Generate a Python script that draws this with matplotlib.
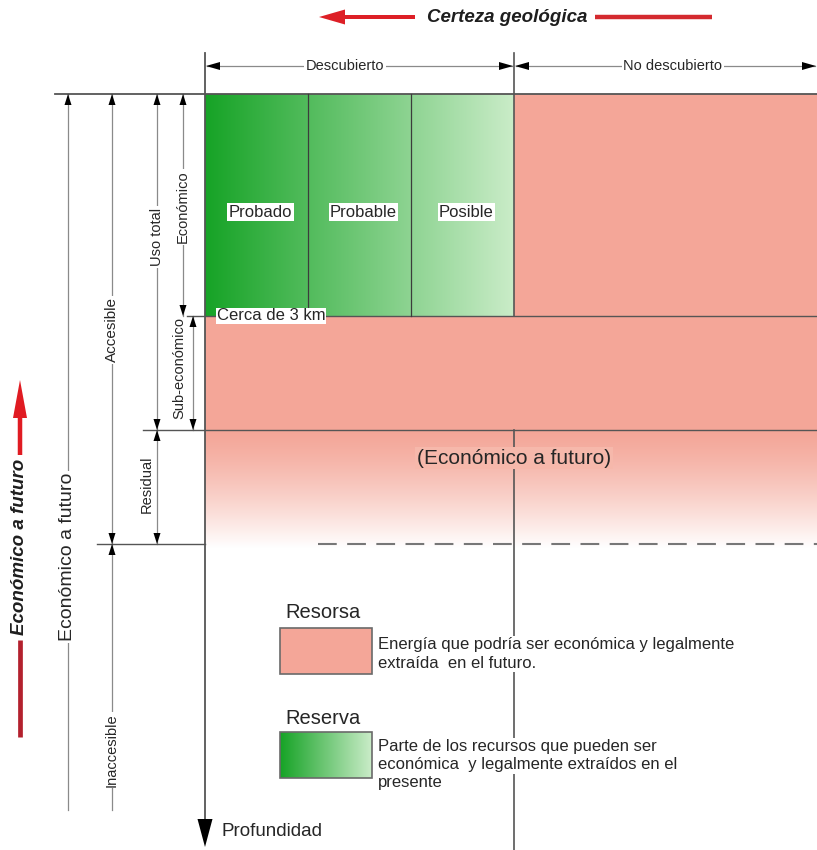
import numpy as np
import matplotlib
matplotlib.use("Agg")
import matplotlib.pyplot as plt
from matplotlib.patches import Polygon, Rectangle, FancyArrow

plt.rcParams['font.family'] = ['Liberation Sans', 'DejaVu Sans']

# --- texts of the diagram ---
title = "Certeza geológica"
side_title = "Económico a futuro"
header_labels = ["Descubierto", "No descubierto"]
reserve_labels = ["Probado", "Probable", "Posible"]
depth_note = "Cerca de 3 km"
future_label = "(Económico a futuro)"
axis_label = "Profundidad"
legend_titles = ["Resorsa", "Reserva"]
legend_texts = [["Energía que podría ser económica y legalmente",
                 "extraída  en el futuro."],
                ["Parte de los recursos que pueden ser",
                 "económica  y legalmente extraídos en el",
                 "presente"]]
dim_labels = ["Económico a futuro", "Accesible", "Inaccesible", "Uso total",
              "Residual", "Económico", "Sub-económico"]

# --- layout (pixel space) ---
W, H = 817, 850
XA, XS, XE = 205, 514, 817          # axis, discovered split, right edge
YT, YE, YS, YR = 94, 316, 430, 544  # top, economic, sub-economic, residual
SALMON = np.array([244, 166, 152]) / 255
GREEN_L = np.array([22, 163, 38]) / 255
GREEN_R = np.array([202, 236, 200]) / 255
LINE = '#555555'
DIM = '#8a8a8a'
TXT = '#262626'

fig = plt.figure(figsize=(W / 100, H / 100), dpi=100)
ax = fig.add_axes([0, 0, 1, 1])


def hgrad(x0, x1, y0, y1, c0, c1, z=1):
    t = np.linspace(0, 1, 256)[None, :, None]
    img = c0 + (c1 - c0) * t
    ax.imshow(img, extent=[x0, x1, y1, y0], origin='upper', aspect='auto',
              interpolation='bilinear', zorder=z)


def vgrad(x0, x1, y0, y1, c0, c1, z=1):
    t = np.linspace(0, 1, 256)[:, None, None] ** 1.3
    img = c0 + (c1 - c0) * t
    ax.imshow(img, extent=[x0, x1, y1, y0], origin='upper', aspect='auto',
              interpolation='bilinear', zorder=z)


def head(x, y, d, L=11, w=3.5, color='black'):
    # arrowhead with tip at (x, y); d in up/down/left/right
    if d == 'up':
        pts = [(x, y), (x - w, y + L), (x + w, y + L)]
    elif d == 'down':
        pts = [(x, y), (x - w, y - L), (x + w, y - L)]
    elif d == 'left':
        pts = [(x, y), (x + L, y - w), (x + L, y + w)]
    else:
        pts = [(x, y), (x - L, y - w), (x - L, y + w)]
    ax.add_patch(Polygon(pts, closed=True, color=color, zorder=6, lw=0))


def vdim(x, y0, y1, top=True, bottom=True):
    ax.plot([x, x], [y0, y1], color=DIM, lw=0.9, zorder=4)
    if top:
        head(x, y0, 'up')
    if bottom:
        head(x, y1, 'down')


def label(x, y, s, size=10.5, rot=0, bg='white', **kw):
    ax.text(x, y, s, fontsize=size, rotation=rot, ha='center', va='center',
            color=TXT, zorder=8,
            bbox=dict(facecolor=bg, edgecolor='none', pad=1) if bg else None,
            **kw)


# --- fills ---
hgrad(XA, XS, YT, YE, GREEN_L, GREEN_R)
ax.add_patch(Rectangle((XS, YT), XE - XS, YE - YT, color=SALMON, zorder=1, lw=0))
ax.add_patch(Rectangle((XA, YE), XE - XA, YS - YE, color=SALMON, zorder=1, lw=0))
vgrad(XA, XE, YS, YR + 4, SALMON, np.ones(3))

# --- grid lines ---
ax.plot([55, XE], [YT, YT], color=LINE, lw=1.3, zorder=5)
ax.plot([187, XE], [YE, YE], color=LINE, lw=1.0, zorder=5)
ax.plot([143, XE], [YS, YS], color=LINE, lw=1.0, zorder=5)
ax.plot([97, XA], [YR, YR], color=LINE, lw=1.0, zorder=5)
ax.plot([318, XE], [YR, YR], color='#777777', lw=1.5, ls=(0, (9, 5)), zorder=5)
cell_edges = np.linspace(XA, XS, len(reserve_labels) + 1)
for xc in cell_edges[1:-1]:
    ax.plot([xc, xc], [YT, YE], color='#3c3c3c', lw=0.9, zorder=5)
ax.plot([XA, XA], [53, 822], color=LINE, lw=1.3, zorder=5)
head(XA, 847, 'down', L=28, w=7.5)
ax.plot([XS, XS], [53, YE], color=LINE, lw=1.2, zorder=5)
ax.plot([XS, XS], [YS, H], color=LINE, lw=1.2, zorder=5)

# --- header ---
ax.add_patch(FancyArrow(415, 17, -70, 0, width=4, head_width=15,
                        head_length=26, length_includes_head=False,
                        color='#dd1f26', lw=0, zorder=6))
ax.plot([595, 712], [17, 17], color='#d42a2f', lw=3.2, zorder=6,
        solid_capstyle='butt')
ax.text(507, 17, title, fontsize=13.5, fontweight='bold', style='italic',
        ha='center', va='center', color='#1e1e1e', zorder=8)

spans = [(XA, XS), (XS, XE)]
header_x = [345, 673]
for (a, b), s, xc in zip(spans, header_labels, header_x):
    ax.plot([a + 2, b - 2], [66, 66], color=DIM, lw=0.9, zorder=4)
    head(a + 1, 66, 'left', L=14, w=4)
    head(b - 1, 66, 'right', L=14, w=4)
    label(xc, 66, s, size=10.5)

# --- cell labels ---
for i, s in enumerate(reserve_labels):
    label((cell_edges[i] + cell_edges[i + 1]) / 2 + 4, 212, s, size=12)
ax.text(217, YE, depth_note, fontsize=12, ha='left', va='center', color=TXT,
        zorder=8, bbox=dict(facecolor='white', edgecolor='none', pad=0.5))
label(XS, 458, future_label, size=15, bg=(0.965, 0.72, 0.67))

# --- left dimension lines ---
vdim(68, YT, 810, bottom=False)
label(68, 557, dim_labels[0], size=14, rot=90)
vdim(112, YT, YR)
label(112, 330, dim_labels[1], rot=90, size=11)
vdim(112, YR, 810, bottom=False)
label(112, 750, dim_labels[2], rot=90)
vdim(157, YT, YS)
label(157, 237, dim_labels[3], rot=90)
vdim(157, YS, YR)
label(147, 484, dim_labels[4], rot=90, bg=None)
vdim(183, YT, YE)
label(183, 207, dim_labels[5], rot=90)
vdim(193, YE, YS)
label(179, 368, dim_labels[6], rot=90, bg=None)

# red side arrow
ax.add_patch(FancyArrow(20, 455, 0, -75, width=4.5, head_width=14,
                        head_length=38, length_includes_head=True,
                        color='#e01b22', lw=0, zorder=6))
ax.plot([20, 20], [640, 737], color='#b3202d', lw=3.4, zorder=6,
        solid_capstyle='butt')
ax.text(20, 547, side_title, fontsize=13.5, fontweight='bold', style='italic',
        rotation=90, ha='center', va='center', color='#1e1e1e', zorder=8)

ax.text(222, 832, axis_label, fontsize=13.5, ha='left', va='center',
        color=TXT, zorder=8)

# --- legend ---
box_y = [628, 732]
title_y = [613, 718]
text_y0 = [645, 747]
for k in range(2):
    ax.text(285, title_y[k], legend_titles[k], fontsize=14.5, ha='left',
            va='center', color=TXT, zorder=8)
    if k == 0:
        ax.add_patch(Rectangle((280, box_y[k]), 92, 46, facecolor=SALMON,
                               edgecolor='#6a6a6a', lw=1.2, zorder=6))
    else:
        hgrad(280, 372, box_y[k], box_y[k] + 46, GREEN_L, GREEN_R, z=6)
        ax.add_patch(Rectangle((280, box_y[k]), 92, 46, facecolor='none',
                               edgecolor='#6a6a6a', lw=1.2, zorder=7))
    for j, line in enumerate(legend_texts[k]):
        ax.text(378, text_y0[k] + 18 * j, line, fontsize=12, ha='left',
                va='center', color=TXT, zorder=8,
                bbox=dict(facecolor='white', edgecolor='none', pad=1))

ax.set_xlim(0, W)
ax.set_ylim(H, 0)
ax.axis('off')
fig.savefig('out.png', dpi=100, facecolor='white')
